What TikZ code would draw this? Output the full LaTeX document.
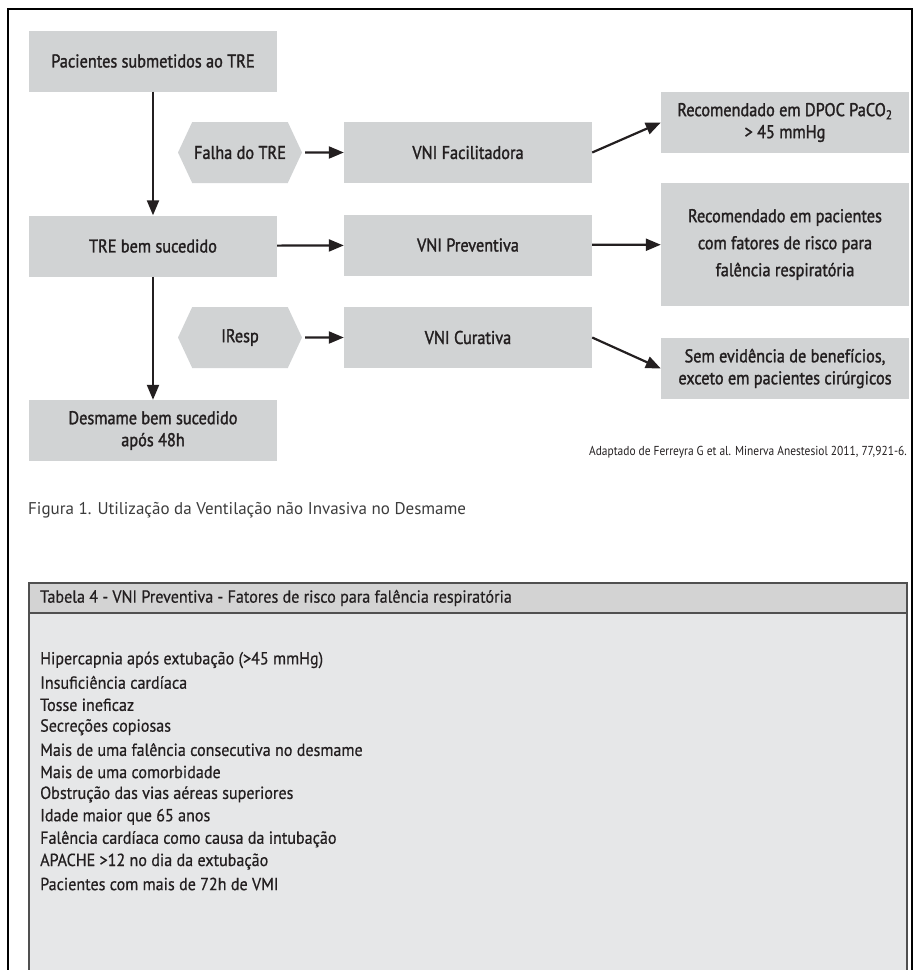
\documentclass[tikz,border=0pt]{standalone}
\usepackage{fontspec}
\setmainfont{PT Sans}
\newfontfamily\boxfont{PT Sans}[FakeStretch=0.88,FakeBold=1.5]
\newfontfamily\listfont{PT Sans}[FakeStretch=0.92,FakeBold=0.6]
\newfontfamily\notefont{PT Sans}[FakeStretch=0.88]
\usetikzlibrary{positioning,arrows.meta,shapes.symbols}
\definecolor{boxgray}{RGB}{209,211,212}
\definecolor{tabgray}{RGB}{230,231,232}
\definecolor{headgray}{RGB}{211,211,211}
\definecolor{tabline}{RGB}{80,80,80}
\definecolor{ink}{RGB}{35,31,32}
\definecolor{capgray}{RGB}{60,60,60}

\begin{document}
\begin{tikzpicture}[x=1pt,y=-1pt,
    box/.style={fill=boxgray,minimum width=248pt,minimum height=61pt,inner sep=0pt,
      align=center,text=ink,font=\boxfont\fontsize{18.5}{22}\selectfont},
    hexa/.style={signal,signal to=east and west,signal pointer angle=130,fill=boxgray,
      minimum width=124pt,minimum height=61pt,inner sep=0pt,text=ink,
      font=\boxfont\fontsize{18.5}{22}\selectfont},
    item/.style={anchor=west,inner sep=0pt,text=ink,font=\listfont\fontsize{17.5}{20}\selectfont},
    arr/.style={-{Triangle[length=15pt,width=12pt]},line width=2.2pt,draw=ink}]
    \useasboundingbox (0,0) rectangle (915,970);
    \clip (0,0) rectangle (915,970);
    % frame
    \draw[line width=2.5pt] (8,1000) |- (912,9) -- (912,1000);
    % left column
    \node[box] (pac) at (153,61) {Pacientes submetidos ao TRE};
    \node[box] (tre) at (153,246) {TRE bem sucedido};
    \node[box] (desm) at (153,430.5) {Desmame bem sucedido\\após 48h};
    % triggers
    \node[hexa] (falha) at (240,152.5) {Falha do TRE};
    \node[hexa] (iresp) at (240,337.5) {IResp};
    % VNI boxes
    \node[box] (fac) at (468,152.5) {VNI Facilitadora};
    \node[box] (prev) at (468,245) {VNI Preventiva};
    \node[box] (cur) at (468,337.5) {VNI Curativa};
    % recommendations
    \node[box] (dpoc) at (785,122.5) {Recomendado em DPOC PaCO\textsubscript{2}\\> 45 mmHg};
    \node[box,minimum height=123pt] (risco) at (785,244.5)
      {Recomendado em pacientes\\[5pt]com fatores de risco para\\[5pt]falência respiratória};
    \node[box] (sem) at (785,368.5) {Sem evidência de benefícios,\\exceto em pacientes cirúrgicos};
    % arrows
    \draw[arr] (pac) -- (tre);
    \draw[arr] (tre) -- (desm);
    \draw[arr,shorten <=3pt] (falha) -- (fac);
    \draw[arr] (tre) -- (prev);
    \draw[arr,shorten <=3pt] (iresp) -- (cur);
    \draw[arr] (fac.east) -- (dpoc.west);
    \draw[arr] (prev) -- (risco);
    \draw[arr] (cur.east) -- (sem.west);
    % source and caption
    \node[anchor=east,inner sep=0pt,text=ink,font=\notefont\fontsize{13}{15}\selectfont] (src) at (907,452)
      {Adaptado de Ferreyra G et al. Minerva Anestesiol 2011, 77,921-6.};
    \node[anchor=west,inner sep=0pt,text=capgray,font=\fontsize{17}{20}\selectfont] (cap) at (28,510)
      {Figura 1. Utilização da Ventilação não Invasiva no Desmame};
    % table
    \draw[draw=tabline,fill=tabgray,line width=1.2pt] (29,583) rectangle (907,1000);
    \draw[draw=tabline,fill=headgray,line width=1.2pt] (29,583) rectangle (907,613);
    \node[item] (tabtitle) at (40,598) {Tabela 4 - VNI Preventiva - Fatores de risco para falência respiratória};
    \foreach \txt [count=\i] in {Hipercapnia após extubação (>45 mmHg),Insuficiência cardíaca,
        Tosse ineficaz,Secreções copiosas,Mais de uma falência consecutiva no desmame,
        Mais de uma comorbidade,Obstrução das vias aéreas superiores,Idade maior que 65 anos,
        Falência cardíaca como causa da intubação,APACHE >12 no dia da extubação,
        Pacientes com mais de 72h de VMI}
      \node[item] (risk\i) at (40,637.6+\i*22.4) {\txt};
  \end{tikzpicture}
\end{document}
